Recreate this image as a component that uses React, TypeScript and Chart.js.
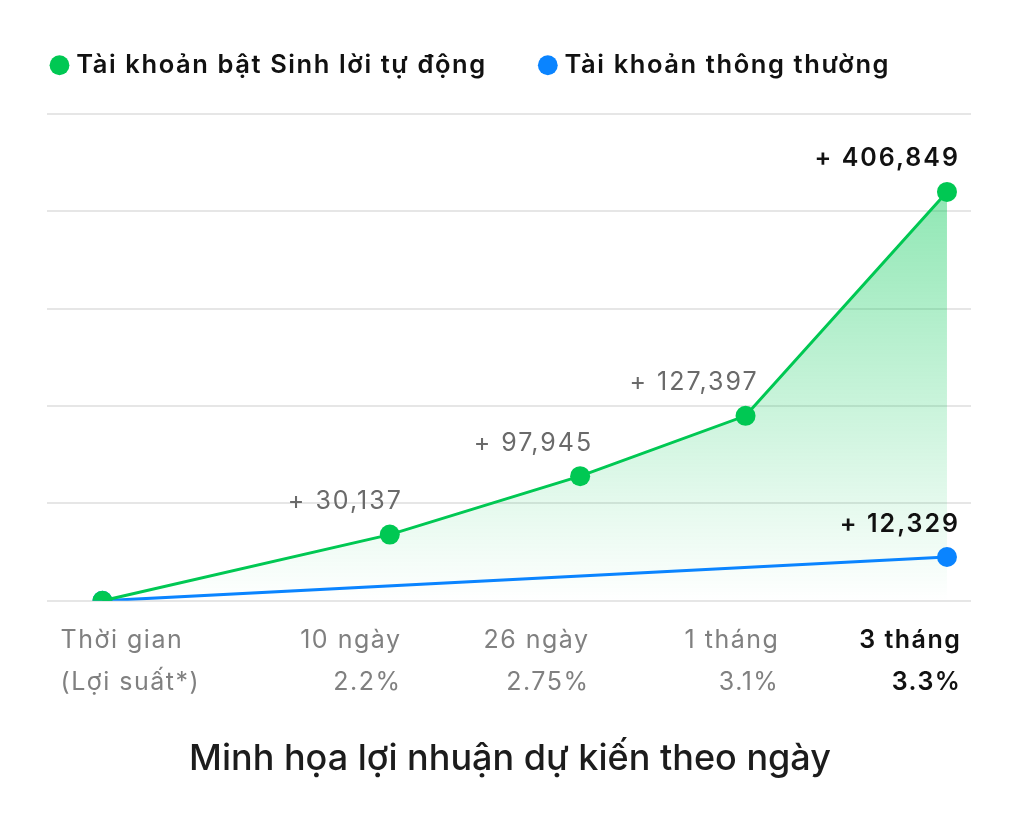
import React, { useEffect, useRef } from "react";
import { Chart, registerables } from "chart.js";

Chart.register(...registerables);

// ---- data ----
const seriesNames = ["Tài khoản bật Sinh lời tự động", "Tài khoản thông thường"];
const periodLabels = ["Thời gian", "10 ngày", "26 ngày", "1 tháng", "3 tháng"];
const rateLabels = ["(Lợi suất*)", "2.2%", "2.75%", "3.1%", "3.3%"];
// horizontal position of each period on a 0–100 axis
const periodX = [6.0, 37.1, 57.7, 75.6, 97.4];
// illustrative height of each point on a 0–5 grid
const autoLevels = [0, 0.68, 1.28, 1.9, 4.2];
const autoProfit = ["", "+ 30,137", "+ 97,945", "+ 127,397", "+ 406,849"];
const normalX = [6.0, 97.4];
const normalLevels = [0, 0.45];
const normalProfit = ["", "+ 12,329"];
const chartTitle = "Minh họa lợi nhuận dự kiến theo ngày";
const gridMax = 5;

const FONT = "Inter, 'Noto Sans', 'DejaVu Sans', sans-serif";
const GREEN = "#00C853";
const BLUE = "#0A84FF";

const legendPatchPlugin = {
  id: "legendPatch",
  afterInit(chart: any) {
    const lg = chart.legend;
    if (!lg) return;
    const fit = lg.fit;
    const draw = lg.draw;
    lg.fit = function () {
      const c = this.ctx;
      c.save();
      c.letterSpacing = "1.6px";
      fit.call(this);
      c.restore();
      this.height = 114;
    };
    lg.draw = function () {
      const c = this.ctx;
      c.save();
      c.letterSpacing = "1.6px";
      c.translate(-1.5, -4.5);
      draw.call(this);
      c.restore();
    };
  },
};

const pointLabelPlugin = {
  id: "pointLabels",
  afterDatasetsDraw(chart: any) {
    const ctx = chart.ctx;
    const draw = (dsIndex: number, texts: string[]) => {
      const meta = chart.getDatasetMeta(dsIndex);
      meta.data.forEach((pt: any, i: number) => {
        const t = texts[i];
        if (!t) return;
        const last = i === texts.length - 1;
        ctx.save();
        ctx.font = `${last ? 600 : 400} 25px ${FONT}`;
        (ctx as any).letterSpacing = "2px";
        ctx.fillStyle = last ? "#111111" : "#6a6a6a";
        ctx.textAlign = "right";
        ctx.textBaseline = "middle";
        ctx.fillText(t, pt.x + 13, pt.y - 33);
        ctx.restore();
      });
    };
    draw(0, autoProfit);
    draw(1, normalProfit);
  },
};

// column anchors as fraction of chart-area width (layout only)
const colAnchor = [0.0147, 0.382, 0.5855, 0.791, 0.988];
const colAlign: CanvasTextAlign[] = ["left", "right", "right", "right", "right"];

const periodLabelPlugin = {
  id: "periodLabels",
  afterDraw(chart: any) {
    const { ctx, chartArea: a } = chart;
    const w = a.right - a.left;
    periodLabels.forEach((p, i) => {
      const last = i === periodLabels.length - 1;
      const right = colAlign[i] === "right";
      const x = a.left + colAnchor[i] * w + (right ? 1.5 : 0);
      ctx.save();
      ctx.font = `${last ? 600 : 400} 25px ${FONT}`;
      (ctx as any).letterSpacing = "1.5px";
      ctx.fillStyle = last ? "#111111" : "#808080";
      ctx.textAlign = colAlign[i];
      ctx.textBaseline = "middle";
      ctx.fillText(p, x, a.bottom + 40);
      ctx.fillText(rateLabels[i], x, a.bottom + 82);
      ctx.restore();
    });
  },
};

export default function App() {
  const ref = useRef<HTMLCanvasElement>(null);

  useEffect(() => {
    if (!ref.current) return;
    const chart = new Chart(ref.current, {
      type: "line",
      data: {
        datasets: [
          {
            label: seriesNames[0],
            data: periodX.map((x, i) => ({ x, y: autoLevels[i] })),
            borderColor: GREEN,
            borderWidth: 3,
            pointBackgroundColor: GREEN,
            pointBorderColor: GREEN,
            pointBorderWidth: 0,
            pointRadius: 10,
            tension: 0,
            fill: "origin",
            backgroundColor: (c: any) => {
              const area = c.chart.chartArea;
              if (!area) return "rgba(0,200,83,0.2)";
              const g = c.chart.ctx.createLinearGradient(0, area.top, 0, area.bottom);
              g.addColorStop(0, "rgba(0,200,83,0.52)");
              g.addColorStop(1, "rgba(0,200,83,0.0)");
              return g;
            },
          },
          {
            label: seriesNames[1],
            data: normalX.map((x, i) => ({ x, y: normalLevels[i] })),
            borderColor: BLUE,
            borderWidth: 3,
            pointBackgroundColor: BLUE,
            pointBorderColor: BLUE,
            pointBorderWidth: 0,
            pointRadius: 10,
            tension: 0,
            fill: false,
            backgroundColor: BLUE,
          },
        ],
      },
      options: {
        animation: false,
        responsive: true,
        maintainAspectRatio: false,
        layout: { padding: 0 },
        scales: {
          x: { type: "linear", min: 0, max: 100, display: false },
          y: {
            min: 0,
            max: gridMax,
            ticks: { display: false, stepSize: 1 },
            grid: { color: "#e6e6e6", lineWidth: 2, drawTicks: false },
            border: { display: false },
            afterFit: (s: any) => {
              s.width = 47;
            },
          },
          y2: {
            position: "right",
            min: 0,
            max: gridMax,
            ticks: { display: false },
            grid: { display: false, drawTicks: false },
            border: { display: false },
            afterFit: (s: any) => {
              s.width = 49;
            },
          },
        },
        plugins: {
          filler: { drawTime: "beforeDatasetsDraw" },
          tooltip: { enabled: false },
          legend: {
            position: "top",
            align: "start",
            labels: {
              usePointStyle: true,
              pointStyle: "circle",
              boxWidth: 8,
              boxHeight: 14,
              padding: 57,
              color: "#111111",
              font: { family: FONT, size: 25.5, weight: 600 },
            },
          },
          title: {
            display: true,
            text: chartTitle,
            position: "bottom",
            color: "#1c1c1c",
            font: { family: FONT, size: 36, weight: 500 },
            padding: { top: 137, bottom: 36 },
          },
        },
      } as any,
      plugins: [legendPatchPlugin, pointLabelPlugin, periodLabelPlugin],
    });
    return () => chart.destroy();
  }, []);

  return (
    <div style={{ position: "absolute", left: 0, top: 0, width: 1020, height: 817, background: "#fff" }}>
      <canvas ref={ref} />
    </div>
  );
}
